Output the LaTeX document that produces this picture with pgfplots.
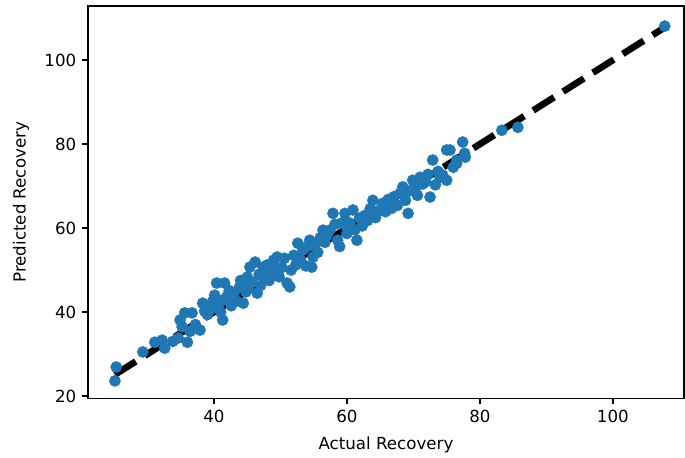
\documentclass[border=0pt]{standalone}
\usepackage{fontspec}
\setmainfont{DejaVu Sans}
\usepackage{pgfplots}
\pgfplotsset{compat=1.18}
\definecolor{mplblue}{HTML}{1F77B4}

\pgfplotstableread{
x y
25.1 23.6
25.3 26.9
29.3 30.5
31.1 32.8
32.2 33.3
32.6 31.4
33.8 33.0
34.6 33.8
34.9 38.1
35.2 36.5
35.6 39.8
36.0 32.8
36.4 35.4
36.7 39.8
37.2 37.0
37.9 35.7
38.3 42.1
38.6 40.2
39.0 39.4
39.4 40.5
39.8 42.5
40.1 44.0
40.4 46.9
40.6 41.2
41.0 40.0
41.3 38.1
41.4 42.9
41.6 46.9
42.0 43.8
42.3 45.1
42.6 41.5
43.0 44.6
43.4 42.6
43.8 45.8
44.0 47.5
44.4 42.1
44.8 44.8
45.0 48.3
45.2 46.0
45.4 50.7
45.8 47.2
46.2 51.9
46.5 44.5
46.8 49.0
47.0 46.3
47.4 50.7
47.6 48.2
48.0 51.2
48.3 47.5
48.7 49.8
49.0 52.4
49.2 50.7
49.5 53.1
49.8 48.4
50.2 50.6
50.6 52.8
51.0 46.9
51.4 46.0
51.6 50.0
52.0 53.5
52.3 51.2
52.6 56.4
53.0 52.4
53.4 54.8
53.8 51.0
54.1 55.6
54.4 57.1
54.7 50.7
54.9 53.1
55.2 55.9
55.6 54.2
56.0 57.7
56.4 59.5
56.7 56.6
57.0 58.2
57.4 59.5
57.9 63.5
58.2 60.9
58.6 57.1
58.9 55.6
59.2 61.2
59.7 63.5
60.0 58.7
60.0 60.2
60.4 61.2
60.9 64.3
61.2 59.6
61.5 57.1
61.9 62.4
62.3 60.5
62.7 63.0
63.1 61.8
63.5 64.6
63.8 63.5
63.9 66.6
64.3 62.5
64.8 64.2
65.4 65.9
65.8 63.9
66.2 66.8
66.7 64.7
67.1 67.5
67.6 65.4
68.0 68.3
68.4 69.8
68.8 66.6
69.2 63.5
69.5 68.9
69.9 71.4
70.3 69.6
70.6 67.8
71.0 72.1
71.4 70.5
71.8 71.0
72.2 72.8
72.5 67.4
72.9 76.2
73.3 70.3
73.7 73.5
74.0 72.1
74.4 72.6
75.0 71.4
75.0 78.6
75.5 78.6
76.0 74.5
76.5 76.2
76.5 75.4
77.4 80.5
77.7 77.8
77.8 76.9
83.3 83.3
85.7 84.0
107.8 108.1
}\pts

\begin{document}
\begin{tikzpicture}
\begin{axis}[
    name=ax,
    scale only axis,
    width=357.6pt,
    height=235.5pt,
    xmin=21.05, xmax=110.7,
    ymin=19.4, ymax=112.9,
    xtick={40,60,80,100},
    ytick={20,40,60,80,100},
    axis line style={black, line width=0.8pt},
    tick align=outside,
    major tick length=3.5pt,
    tick style={black, line width=0.8pt},
    xtick pos=bottom,
    ytick pos=left,
    /pgf/number format/assume math mode=true,
    tick label style={font=\fontsize{10}{12}\selectfont, black},
    label style={font=\fontsize{10}{12}\selectfont, black},
    xlabel={Actual Recovery},
    ylabel={Predicted Recovery},
    xlabel style={yshift=-1.8pt},
    ylabel style={yshift=2.4pt},
    clip=false,
]
\addplot[mplblue, only marks, mark=*, mark size=3.4pt, mark options={fill=mplblue, draw=mplblue, line width=0.2pt}] table[x=x, y=y] {\pts};
\addplot[black, line width=4pt, dash pattern=on 14.8pt off 6.4pt] coordinates {(25.1,25.1) (107.8,107.8)};
\end{axis}
\pgfresetboundingbox
\path[use as bounding box] ([xshift=-52.8pt, yshift=-35.1pt]ax.south west) rectangle ([xshift=0.6pt, yshift=3.6pt]ax.north east);
\end{tikzpicture}
\end{document}
